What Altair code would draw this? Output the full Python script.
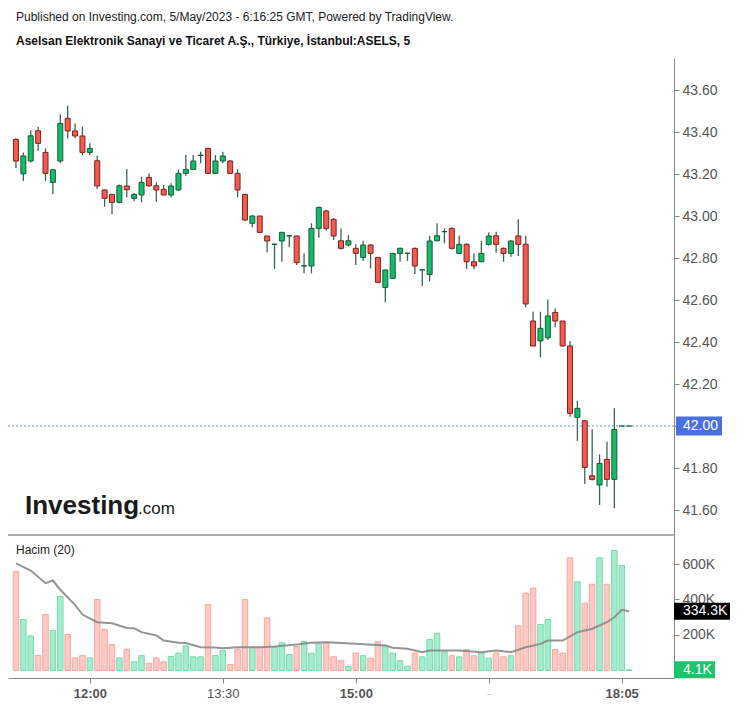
import altair as alt
import pandas as pd

# ---------------- data ----------------
bar_index = list(range(84))
opens = [43.365, 43.201, 43.262, 43.406, 43.303, 43.160, 43.262, 43.465, 43.405, 43.381,
         43.303, 43.263, 43.124, 43.103, 43.065, 43.143, 43.084, 43.100, 43.184, 43.144,
         43.127, 43.100, 43.124, 43.203, 43.222, 43.288, 43.322, 43.203, 43.262, 43.262,
         43.203, 43.103, 42.965, 43.000, 42.905, 42.865, 42.881, 42.905, 42.905, 42.762,
         42.762, 42.941, 43.024, 42.984, 42.882, 42.862, 42.846, 42.803, 42.862, 42.803,
         42.660, 42.703, 42.822, 42.822, 42.846, 42.743, 42.722, 42.882, 42.925, 42.941,
         42.822, 42.865, 42.782, 42.782, 42.865, 42.906, 42.846, 42.822, 42.905, 42.865,
         42.500, 42.405, 42.420, 42.541, 42.500, 42.381, 42.041, 42.025, 41.763, 41.719,
         41.841, 41.746, 42.000, 42.000]
highs = [43.370, 43.303, 43.408, 43.424, 43.322, 43.225, 43.484, 43.525, 43.441, 43.425,
         43.346, 43.287, 43.126, 43.105, 43.150, 43.224, 43.110, 43.187, 43.203, 43.160,
         43.148, 43.156, 43.222, 43.290, 43.290, 43.306, 43.325, 43.290, 43.306, 43.265,
         43.222, 43.105, 43.005, 43.000, 42.905, 42.868, 42.925, 42.908, 42.905, 42.822,
         42.965, 43.045, 43.030, 42.990, 42.941, 42.910, 42.865, 42.882, 42.865, 42.805,
         42.745, 42.825, 42.850, 42.825, 42.850, 42.746, 42.906, 42.965, 42.941, 42.945,
         42.906, 42.870, 42.822, 42.882, 42.922, 42.925, 42.850, 42.885, 42.984, 42.906,
         42.544, 42.544, 42.603, 42.560, 42.500, 42.405, 42.120, 42.030, 41.984, 41.865,
         41.925, 42.084, 42.000, 42.000]
lows = [43.229, 43.167, 43.255, 43.310, 43.167, 43.105, 43.251, 43.370, 43.370, 43.290,
        43.290, 43.129, 43.044, 43.008, 43.060, 43.089, 43.071, 43.065, 43.140, 43.068,
        43.100, 43.089, 43.120, 43.190, 43.220, 43.251, 43.200, 43.200, 43.251, 43.200,
        43.089, 42.975, 42.946, 42.920, 42.827, 42.748, 42.782, 42.851, 42.767, 42.727,
        42.727, 42.897, 42.930, 42.886, 42.840, 42.855, 42.767, 42.786, 42.751, 42.680,
        42.589, 42.700, 42.782, 42.786, 42.724, 42.667, 42.690, 42.880, 42.870, 42.840,
        42.820, 42.748, 42.748, 42.780, 42.860, 42.825, 42.782, 42.806, 42.810, 42.565,
        42.380, 42.327, 42.410, 42.470, 42.380, 42.044, 41.929, 41.724, 41.740, 41.624,
        41.711, 41.608, 42.000, 42.000]
closes = [43.262, 43.286, 43.382, 43.346, 43.203, 43.220, 43.441, 43.405, 43.381, 43.303,
          43.322, 43.143, 43.084, 43.065, 43.144, 43.125, 43.103, 43.160, 43.143, 43.124,
          43.100, 43.143, 43.203, 43.222, 43.262, 43.290, 43.203, 43.262, 43.286, 43.203,
          43.124, 42.981, 43.000, 42.922, 42.881, 42.866, 42.922, 42.906, 42.778, 42.763,
          42.941, 43.041, 42.941, 42.905, 42.846, 42.882, 42.822, 42.862, 42.822, 42.684,
          42.743, 42.822, 42.846, 42.823, 42.762, 42.744, 42.881, 42.906, 42.926, 42.846,
          42.865, 42.782, 42.762, 42.822, 42.905, 42.865, 42.822, 42.881, 42.865, 42.581,
          42.381, 42.465, 42.524, 42.500, 42.381, 42.060, 42.084, 41.803, 41.746, 41.822,
          41.746, 41.984, 42.000, 42.000]
volumes_k = [558, 287, 195, 84, 315, 225, 417, 203, 71, 84,
             71, 400, 231, 146, 71, 120, 49, 84, 41, 71,
             49, 79, 98, 139, 77, 77, 372, 84, 113, 34,
             120, 400, 131, 131, 297, 131, 156, 90, 135, 163,
             98, 154, 156, 77, 55, 24, 98, 83, 69, 162,
             139, 98, 55, 24, 98, 77, 175, 210, 105, 83,
             77, 118, 83, 98, 69, 98, 77, 83, 252, 436,
             464, 259, 287, 118, 98, 635, 500, 379, 486, 635,
             486, 676, 592, 4.1]
ma_index = [0, 2, 4, 5, 6, 8, 9, 11, 13, 15, 16, 17, 19, 20, 22, 23, 25, 27, 28, 30,
            33, 35, 38, 40, 42, 44, 46, 50, 51, 53, 55, 56, 60, 63, 65, 67, 69, 71, 72,
            74, 76, 78, 80, 81, 82, 83]
ma_k = [604, 563, 492, 507, 455, 370, 315, 272, 266, 240, 238, 216, 197, 169, 156, 155,
        131, 130, 126, 131, 131, 135, 146, 156, 159, 155, 150, 141, 128, 122, 103, 113,
        113, 103, 113, 103, 131, 150, 169, 169, 216, 235, 272, 300, 342, 334.3]
time_tick_index = [10, 28, 46, 64, 82]
time_tick_labels = ["12:00", "13:30", "15:00", "_", "18:05"]
price_ticks = [41.6, 41.8, 42.0, 42.2, 42.4, 42.6, 42.8, 43.0, 43.2, 43.4, 43.6]
volume_ticks = [200000, 400000, 600000]
last_price = 42.00
last_ma_k = 334.3
last_volume_k = 4.1

# ---------------- style ----------------
FONT = "Liberation Sans"
W, H = 666, 678
UP_FILL, UP_STROKE = "#10bd6b", "#1d5a3a"
DN_FILL, DN_STROKE = "#f45a50", "#7a2420"
WICK = "#3a6650"
VUP_FILL, VUP_STROKE = "#a7ebcf", "#72dcab"
VDN_FILL, VDN_STROKE = "#ffc9c5", "#ffa59e"

df = pd.DataFrame({"i": bar_index, "o": opens, "h": highs, "l": lows, "c": closes,
                   "v": [v * 1000 for v in volumes_k]})
ma_df = pd.DataFrame({"i": ma_index, "m": [m * 1000 for m in ma_k]})

xs = alt.Scale(domain=[-0.4, 88.4], nice=False, zero=False)
ps = alt.Scale(domain=[41.4810, 43.7524], range=[535, 58], nice=False, zero=False)
vs = alt.Scale(domain=[-42300, 763400], range=[678, 535], nice=False, zero=False)

label_expr = "".join(f"datum.value == {v} ? '{t}' : " for v, t in zip(time_tick_index, time_tick_labels)) + "''"
normal_tick = time_tick_index[time_tick_labels.index("13:30")]
small_tick = time_tick_index[time_tick_labels.index("_")]


def x_axis():
    return alt.Axis(orient="bottom", values=time_tick_index, labelExpr=label_expr,
                    labelFont=FONT,
                    labelFontSize={"condition": {"test": f"datum.value == {small_tick}", "value": 8},
                                   "value": 13},
                    labelFontWeight={"condition": {"test": f"datum.value == {normal_tick}", "value": "normal"},
                                     "value": "bold"},
                    labelColor="#555", tickColor="#888", tickSize=5, domainColor="#888",
                    labelPadding=4, grid=False, title=None, labelOverlap=False, labelFlush=False)


price_axis = alt.Axis(orient="right", values=price_ticks, format=".2f", labelFont=FONT,
                      labelFontSize=14, labelColor="#555", tickColor="#888", tickSize=5,
                      domainColor="#888", labelPadding=3, grid=False, title=None,
                      labelOverlap=False, labelFlush=False)
vol_axis = alt.Axis(orient="right", values=volume_ticks, labelExpr="datum.value / 1000 + 'K'",
                    labelFont=FONT, labelFontSize=14, labelColor="#555", tickColor="#888",
                    tickSize=5, domainColor="#888", labelPadding=3, grid=False, title=None,
                    labelOverlap=False, labelFlush=False)

up = "datum.c >= datum.o"


def X():
    return alt.X("i:Q", scale=xs, axis=x_axis())


wick = alt.Chart(df).mark_rule(color=WICK, strokeWidth=1.3).encode(
    x=X(), y=alt.Y("l:Q", scale=ps, axis=None), y2="h:Q")
body = alt.Chart(df).mark_bar(width=5, strokeWidth=1, opacity=1).encode(
    x=X(), y=alt.Y("o:Q", scale=ps, axis=price_axis), y2="c:Q",
    color=alt.condition(up, alt.value(UP_FILL), alt.value(DN_FILL)),
    stroke=alt.condition(up, alt.value(UP_STROKE), alt.value(DN_STROKE)))
lp_df = pd.DataFrame({"p": [last_price], "t": [f"{last_price:.2f}"]})
pline = alt.Chart(lp_df).mark_rule(color="#6d8ff0", strokeDash=[2, 2], strokeWidth=1).encode(
    y=alt.Y("p:Q", scale=ps, axis=None), x=alt.value(0), x2=alt.value(W))
pbox = alt.Chart(lp_df).mark_tick(orient="horizontal", thickness=19, size=46, color="#4a70e0", opacity=1).encode(
    y=alt.Y("p:Q", scale=ps, axis=None), x=alt.value(691))
ptext = alt.Chart(lp_df).mark_text(align="left", baseline="middle", color="white", font=FONT, fontSize=14).encode(
    y=alt.Y("p:Q", scale=ps, axis=None), x=alt.value(675), text="t:N")

vbars = alt.Chart(df).mark_bar(width=5.5, strokeWidth=1, opacity=1).encode(
    x=X(), y=alt.Y("v:Q", scale=vs, axis=vol_axis), y2=alt.datum(0),
    color=alt.condition(up, alt.value(VUP_FILL), alt.value(VDN_FILL)),
    stroke=alt.condition(up, alt.value(VUP_STROKE), alt.value(VDN_STROKE)))
ma = alt.Chart(ma_df).mark_line(color="#8a8a8a", strokeWidth=2, opacity=0.9).encode(
    x=X(), y=alt.Y("m:Q", scale=vs, axis=None))
ma_lbl = pd.DataFrame({"v": [last_ma_k * 1000], "t": [f"{last_ma_k}K"]})
vol_lbl = pd.DataFrame({"v": [last_volume_k * 1000], "t": [f"{last_volume_k}K"]})
mabox = alt.Chart(ma_lbl).mark_tick(orient="horizontal", thickness=17, size=56, color="#000", opacity=1).encode(
    y=alt.Y("v:Q", scale=vs, axis=None), x=alt.value(694))
matext = alt.Chart(ma_lbl).mark_text(align="left", baseline="middle", color="white", font=FONT, fontSize=14).encode(
    y=alt.Y("v:Q", scale=vs, axis=None), x=alt.value(675), text="t:N")
vbox = alt.Chart(vol_lbl).mark_tick(orient="horizontal", thickness=17, size=41, color="#1ec46c", opacity=1).encode(
    y=alt.Y("v:Q", scale=vs, axis=None), x=alt.value(686.5))
vtext = alt.Chart(vol_lbl).mark_text(align="left", baseline="middle", color="white", font=FONT, fontSize=14).encode(
    y=alt.Y("v:Q", scale=vs, axis=None), x=alt.value(675), text="t:N")

one = pd.DataFrame({"a": [0]})
sep = alt.Chart(one).mark_rule(color="#555", strokeWidth=1).encode(
    x=alt.value(0), x2=alt.value(W), y=alt.value(535))
h1 = alt.Chart(one).mark_text(align="left", baseline="middle", font=FONT, fontSize=12, color="#222",
                              text="Published on Investing.com, 5/May/2023 - 6:16:25 GMT, Powered by TradingView.").encode(
    x=alt.value(8), y=alt.value(17))
h2 = alt.Chart(one).mark_text(align="left", baseline="middle", font=FONT, fontSize=12, fontWeight="bold", color="#111",
                              text="Aselsan Elektronik Sanayi ve Ticaret A.Ş., Türkiye, İstanbul:ASELS, 5").encode(
    x=alt.value(8), y=alt.value(41))
hacim = alt.Chart(one).mark_text(align="left", baseline="middle", font=FONT, fontSize=12, color="#222",
                                 text="Hacim (20)").encode(x=alt.value(8), y=alt.value(550))
wm1 = alt.Chart(one).mark_text(align="left", baseline="alphabetic", font=FONT, fontSize=26, fontWeight="bold",
                               color="#1a1a1a", text="Investing").encode(x=alt.value(17), y=alt.value(514))
wm2 = alt.Chart(one).mark_text(align="left", baseline="alphabetic", font=FONT, fontSize=17,
                               color="#1a1a1a", text=".com").encode(x=alt.value(130), y=alt.value(514))

chart = alt.layer(
    wick, body, pline, pbox, ptext,
    vbars, ma, mabox, matext, vbox, vtext,
    sep, h1, h2, hacim, wm1, wm2,
).resolve_scale(y="independent").properties(
    width=W, height=H,
    autosize=alt.AutoSizeParams(type="none"),
    padding={"left": 8, "top": 0, "right": 72, "bottom": 29},
    background="white",
).configure_view(stroke=None)

chart.save("out.html", embed_options={"renderer": "svg", "actions": False})
